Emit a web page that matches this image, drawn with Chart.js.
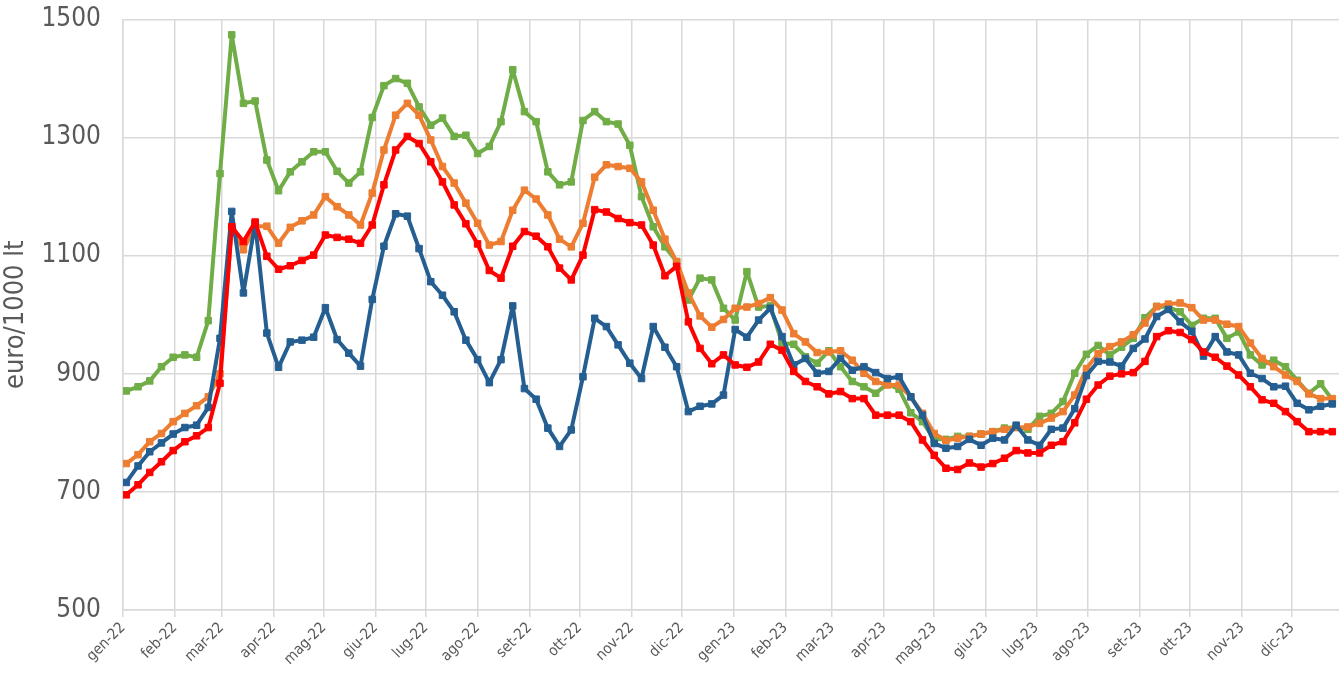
<!DOCTYPE html>
<html>
<head>
<meta charset="utf-8">
<script src="https://cdn.jsdelivr.net/npm/chart.js@4.4.1/dist/chart.umd.min.js"></script>
<style>
html,body{margin:0;padding:0;background:#ffffff;}
#wrap{width:1339px;height:677px;position:relative;}
</style>
</head>
<body>
<div id="wrap"><canvas id="c"></canvas></div>
<script>
// ---- data ----
const firstWeek = '2022-01-03';            // first weekly observation (Monday)
const monthLabels = ['gen-22','feb-22','mar-22','apr-22','mag-22','giu-22','lug-22','ago-22','set-22','ott-22','nov-22','dic-22',
                     'gen-23','feb-23','mar-23','apr-23','mag-23','giu-23','lug-23','ago-23','set-23','ott-23','nov-23','dic-23'];
const yTicks = [500, 700, 900, 1100, 1300, 1500];

const greenSeries = [871,878,888,912,928,932,928,990,1239,1474,1358,1362,1262,1210,1242,1259,1276,1276,1243,1223,
  1242,1334,1388,1400,1392,1352,1321,1333,1302,1304,1273,1285,1327,1415,1344,1327,1242,1220,1225,1329,
  1344,1327,1323,1287,1200,1149,1115,1090,1025,1062,1059,1011,991,1073,1013,1015,952,950,929,918,
  939,912,887,878,867,883,874,834,819,789,789,794,794,798,802,808,810,806,828,833,
  853,901,933,948,932,945,960,995,1014,1013,1005,982,994,994,960,971,932,915,923,912,
  889,867,883,856];
const orangeSeries = [748,763,785,799,819,833,846,861,900,1145,1110,1150,1150,1121,1148,1159,1169,1200,1183,1169,
  1152,1206,1279,1338,1358,1338,1296,1251,1223,1189,1155,1118,1124,1177,1211,1196,1169,1128,1115,1155,
  1233,1254,1251,1248,1225,1177,1128,1090,1037,998,979,992,1011,1013,1019,1029,1008,968,954,936,
  937,939,923,901,887,881,881,861,833,799,787,791,794,798,802,806,809,810,816,825,
  836,864,909,934,946,954,966,986,1014,1018,1020,1012,991,991,984,980,952,926,912,898,
  887,866,858,858];
const redSeries = [695,712,733,751,770,785,795,809,884,1149,1124,1157,1099,1077,1083,1092,1101,1135,1131,1128,
  1121,1152,1220,1279,1302,1290,1259,1225,1186,1154,1120,1075,1062,1116,1141,1133,1115,1079,1059,1101,
  1178,1174,1163,1156,1152,1118,1066,1082,988,943,917,932,915,911,920,950,940,904,887,878,
  866,870,858,858,830,830,830,819,788,762,740,738,749,742,748,757,770,766,766,779,
  785,817,857,881,896,900,902,921,963,973,970,958,937,928,913,898,878,856,850,836,
  819,802,802,802];
const blueSeries = [716,744,768,783,798,809,813,843,960,1175,1037,1155,969,911,954,957,962,1012,958,935,
  913,1026,1116,1171,1167,1112,1056,1033,1005,957,924,885,924,1015,875,857,808,777,805,895,
  994,980,949,918,892,980,945,912,836,845,849,864,975,962,991,1011,963,915,926,901,
  904,926,906,912,902,892,895,861,830,782,774,777,789,779,791,788,813,788,779,806,
  808,841,897,921,920,913,943,959,997,1009,988,972,930,963,937,932,901,892,878,879,
  850,839,845,849];

// ---- helpers (dates -> day offset from 1 Jan 2022) ----
const DAY = 86400000;
const origin = Date.UTC(2022, 0, 1);
const firstOffset = (Date.parse(firstWeek + 'T00:00:00Z') - origin) / DAY;
const weekX = i => firstOffset + 7 * i;
const monthTickValues = monthLabels.map((_, i) => (Date.UTC(2022, i, 1) - origin) / DAY);
const toPoints = arr => arr.map((v, i) => ({ x: weekX(i), y: v }));

const txt = '#595959';
const gridCol = '#D9D9D9';
const fontFam = '"Liberation Sans Narrow", "DejaVu Sans Condensed", "Liberation Sans", sans-serif';

function ds(label, data, color) {
  return {
    label, data: toPoints(data),
    borderColor: color, backgroundColor: color,
    borderWidth: 4, tension: 0, borderJoinStyle: 'round', borderCapStyle: 'round',
    pointStyle: 'rect', pointRadius: 4.6, pointBorderWidth: 1,
    pointBackgroundColor: color, pointBorderColor: color
  };
}

new Chart(document.getElementById('c'), {
  type: 'line',
  data: {
    datasets: [
      ds('rosso', redSeries, '#FF0000'),
      ds('blu', blueSeries, '#255E91'),
      ds('arancio', orangeSeries, '#ED7D31'),
      ds('verde', greenSeries, '#70AD47')
    ]
  },
  options: {
    responsive: true, maintainAspectRatio: false, animation: false,
    layout: { autoPadding: false, padding: { top: 19.5, right: 0, left: 0, bottom: 0 } },
    plugins: { legend: { display: false }, tooltip: { enabled: false } },
    scales: {
      x: {
        type: 'linear', min: 0, max: 727,
        afterBuildTicks: s => { s.ticks = monthTickValues.map(v => ({ value: v })); },
        afterFit: s => { s.height = 67; s.paddingLeft = 0; s.paddingRight = 0; },
        grid: { color: gridCol, lineWidth: 1.5, drawTicks: true, tickLength: 7, tickColor: gridCol },
        border: { color: gridCol, width: 1.5 },
        ticks: {
          autoSkip: false, maxRotation: 45, minRotation: 45, padding: 2,
          color: txt, font: { family: fontFam, size: 15 },
          callback: (v, i) => monthLabels[i]
        }
      },
      y: {
        min: 500, max: 1500,
        afterBuildTicks: s => { s.ticks = yTicks.map(v => ({ value: v })); },
        afterFit: s => { s.width = 123; s.paddingTop = 0; s.paddingBottom = 0; },
        grid: { color: gridCol, lineWidth: 1.5, drawTicks: false },
        border: { color: gridCol, width: 1.5 },
        ticks: { color: txt, padding: 22, font: { family: fontFam, size: 26 }, callback: v => String(v) },
        title: { display: true, text: 'euro/1000 lt', color: txt, font: { family: fontFam, size: 27 }, padding: { top: 0, bottom: 0 } }
      }
    }
  }
});
</script>
</body>
</html>
